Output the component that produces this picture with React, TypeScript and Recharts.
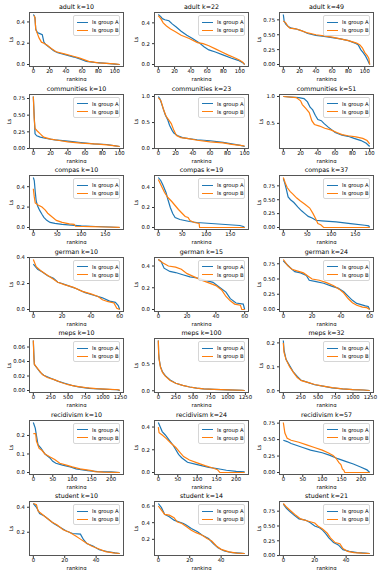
import { LineChart, Line, XAxis, YAxis } from "recharts"

type Pt = [number, number]

const BLUE = "#1f77b4"
const ORANGE = "#ff7f0e"
const FONT = "DejaVu Sans"

// x tick labels per dataset
const adultX = [0, 20, 40, 60, 80, 100]
const communitiesX = [0, 20, 40, 60, 80, 100]
const compasX = [0, 50, 100, 150]
const germanX = [0, 20, 40, 60]
const mepsX = [0, 250, 500, 750, 1000, 1250]
const recidivismX = [0, 50, 100, 150, 200]
const studentX = [0, 20, 40]

// adult
const adult10A: Pt[] = [[0, 0.47], [1, 0.46], [2, 0.44], [3, 0.33], [5, 0.3], [8, 0.29], [11, 0.28], [13, 0.21], [15, 0.19], [20, 0.16], [25, 0.13], [30, 0.11], [40, 0.09], [50, 0.07], [58, 0.05], [65, 0.03], [75, 0.02], [90, 0.01], [100, 0.004], [106, 0]]
const adult10B: Pt[] = [[1, 0.46], [2, 0.44], [3, 0.33], [5, 0.29], [7, 0.25], [10, 0.21], [13, 0.2], [17, 0.18], [22, 0.15], [28, 0.12], [38, 0.1], [48, 0.08], [57, 0.06], [68, 0.03], [80, 0.015], [90, 0.01], [100, 0.005], [106, 0]]
const adult22A: Pt[] = [[0, 0.48], [3, 0.46], [5, 0.44], [8, 0.43], [13, 0.42], [17, 0.39], [22, 0.36], [28, 0.32], [35, 0.28], [42, 0.25], [50, 0.21], [56, 0.17], [62, 0.14], [70, 0.12], [80, 0.09], [90, 0.06], [98, 0.04], [103, 0.02], [106, 0]]
const adult22B: Pt[] = [[0, 0.47], [3, 0.44], [6, 0.4], [10, 0.37], [15, 0.34], [20, 0.32], [28, 0.28], [38, 0.25], [48, 0.21], [55, 0.2], [62, 0.18], [70, 0.15], [78, 0.12], [86, 0.09], [95, 0.06], [100, 0.04], [104, 0.02], [106, 0]]
const adult49A: Pt[] = [[0, 0.84], [1, 0.73], [3, 0.68], [6, 0.64], [10, 0.61], [15, 0.6], [22, 0.57], [30, 0.52], [40, 0.49], [50, 0.47], [60, 0.45], [70, 0.43], [80, 0.4], [88, 0.36], [92, 0.33], [95, 0.25], [98, 0.2], [101, 0.14], [104, 0.06], [106, 0]]
const adult49B: Pt[] = [[0, 0.73], [3, 0.7], [5, 0.65], [8, 0.61], [15, 0.6], [22, 0.57], [30, 0.53], [40, 0.5], [50, 0.48], [60, 0.46], [70, 0.43], [80, 0.4], [90, 0.36], [94, 0.33], [97, 0.28], [100, 0.2], [103, 0.15], [105, 0.1], [106, 0]]

// communities
const comm10A: Pt[] = [[0, 0.78], [1, 0.5], [2, 0.22], [4, 0.19], [8, 0.17], [15, 0.15], [25, 0.13], [40, 0.11], [55, 0.09], [70, 0.07], [85, 0.06], [95, 0.04], [100, 0.03]]
const comm10B: Pt[] = [[0, 0.78], [1, 0.45], [2, 0.3], [4, 0.27], [8, 0.22], [12, 0.17], [20, 0.14], [30, 0.12], [40, 0.1], [55, 0.08], [75, 0.065], [85, 0.055], [95, 0.04], [100, 0.03]]
const comm23A: Pt[] = [[0, 1.0], [2, 0.95], [5, 0.8], [8, 0.65], [11, 0.55], [13, 0.45], [16, 0.35], [18, 0.3], [22, 0.25], [28, 0.21], [35, 0.19], [45, 0.17], [60, 0.15], [75, 0.12], [85, 0.09], [95, 0.06], [100, 0.04]]
const comm23B: Pt[] = [[0, 0.98], [3, 0.92], [6, 0.75], [9, 0.62], [12, 0.55], [15, 0.48], [18, 0.35], [21, 0.25], [26, 0.21], [35, 0.19], [45, 0.16], [60, 0.13], [75, 0.11], [85, 0.08], [95, 0.06], [100, 0.05]]
const comm51A: Pt[] = [[0, 1.0], [10, 0.99], [18, 0.98], [24, 0.96], [28, 0.9], [31, 0.8], [34, 0.75], [37, 0.65], [40, 0.57], [44, 0.55], [47, 0.5], [52, 0.43], [57, 0.37], [60, 0.33], [68, 0.28], [75, 0.26], [82, 0.22], [90, 0.18], [96, 0.13], [100, 0.07]]
const comm51B: Pt[] = [[0, 1.0], [15, 0.98], [20, 0.92], [22, 0.85], [26, 0.78], [30, 0.7], [33, 0.55], [36, 0.48], [42, 0.45], [48, 0.41], [55, 0.38], [62, 0.33], [68, 0.29], [75, 0.27], [84, 0.25], [92, 0.22], [97, 0.18], [100, 0.12]]

// compas
const compas10A: Pt[] = [[0, 0.49], [2, 0.46], [4, 0.35], [6, 0.26], [9, 0.21], [13, 0.17], [18, 0.13], [22, 0.1], [28, 0.07], [35, 0.05], [45, 0.04], [60, 0.03], [85, 0.02], [100, 0.015], [130, 0.01], [160, 0.005], [180, 0]]
const compas10B: Pt[] = [[0, 0.38], [2, 0.3], [4, 0.24], [10, 0.22], [18, 0.2], [25, 0.17], [30, 0.14], [40, 0.1], [48, 0.07], [60, 0.05], [75, 0.035], [85, 0.03], [88, 0.012], [120, 0.008], [150, 0.005], [180, 0.002]]
const compas19A: Pt[] = [[0, 0.5], [5, 0.47], [10, 0.42], [16, 0.35], [20, 0.28], [25, 0.2], [30, 0.14], [35, 0.1], [45, 0.08], [55, 0.07], [65, 0.06], [80, 0.05], [110, 0.04], [140, 0.03], [170, 0.02], [177, 0.01], [180, 0]]
const compas19B: Pt[] = [[0, 0.48], [4, 0.44], [8, 0.4], [13, 0.35], [20, 0.3], [28, 0.26], [35, 0.22], [42, 0.18], [50, 0.14], [56, 0.11], [62, 0.1], [66, 0.07], [75, 0.05], [85, 0.04], [86, 0], [180, 0]]
const compas37A: Pt[] = [[0, 0.88], [3, 0.8], [6, 0.7], [10, 0.55], [15, 0.5], [22, 0.45], [30, 0.37], [38, 0.3], [45, 0.25], [52, 0.2], [60, 0.17], [68, 0.13], [80, 0.12], [110, 0.1], [140, 0.07], [170, 0.04], [178, 0.03], [180, 0]]
const compas37B: Pt[] = [[0, 0.9], [4, 0.8], [8, 0.72], [14, 0.65], [20, 0.6], [28, 0.53], [35, 0.48], [45, 0.42], [55, 0.35], [62, 0.25], [68, 0.15], [72, 0.07], [78, 0.05], [84, 0], [180, 0]]

// german
const german10A: Pt[] = [[0, 0.35], [3, 0.31], [6, 0.29], [10, 0.26], [14, 0.24], [17, 0.21], [20, 0.2], [25, 0.18], [30, 0.16], [36, 0.13], [42, 0.11], [48, 0.09], [53, 0.065], [57, 0.055], [59, 0.03], [60, 0]]
const german10B: Pt[] = [[0, 0.385], [2, 0.33], [5, 0.3], [9, 0.27], [13, 0.24], [17, 0.21], [22, 0.19], [28, 0.17], [34, 0.14], [40, 0.12], [45, 0.1], [48, 0.075], [52, 0.06], [56, 0.05], [58, 0.01], [60, 0]]
const german15A: Pt[] = [[0, 0.46], [2, 0.44], [4, 0.38], [8, 0.35], [12, 0.34], [17, 0.32], [22, 0.3], [27, 0.29], [32, 0.27], [38, 0.25], [42, 0.21], [47, 0.16], [50, 0.1], [54, 0.06], [59, 0.05], [60, 0]]
const german15B: Pt[] = [[0, 0.46], [3, 0.43], [7, 0.4], [12, 0.39], [16, 0.37], [20, 0.33], [25, 0.3], [30, 0.27], [36, 0.24], [40, 0.22], [44, 0.18], [47, 0.12], [50, 0.08], [53, 0.05], [57, 0.04], [58, 0], [60, 0]]
const german24A: Pt[] = [[0, 0.8], [2, 0.75], [5, 0.68], [8, 0.62], [12, 0.6], [16, 0.56], [18, 0.48], [22, 0.46], [28, 0.43], [34, 0.38], [38, 0.35], [42, 0.29], [45, 0.22], [48, 0.15], [51, 0.1], [54, 0.08], [57, 0.06], [59, 0.05], [60, 0]]
const german24B: Pt[] = [[0, 0.82], [3, 0.72], [6, 0.66], [10, 0.63], [14, 0.6], [17, 0.55], [20, 0.5], [25, 0.48], [30, 0.44], [35, 0.39], [39, 0.33], [42, 0.27], [45, 0.18], [48, 0.11], [51, 0.07], [55, 0.04], [58, 0.03], [60, 0]]

// meps
const meps10A: Pt[] = [[0, 0.069], [8, 0.05], [15, 0.036], [30, 0.034], [60, 0.03], [100, 0.025], [150, 0.021], [250, 0.017], [350, 0.013], [450, 0.01], [550, 0.007], [650, 0.005], [800, 0.003], [1000, 0.002], [1200, 0.001], [1240, 0]]
const meps10B: Pt[] = [[0, 0.069], [8, 0.045], [15, 0.036], [40, 0.033], [80, 0.028], [130, 0.022], [200, 0.018], [300, 0.015], [400, 0.011], [500, 0.008], [600, 0.006], [750, 0.004], [900, 0.0025], [1100, 0.0015], [1230, 0.001], [1240, 0]]
const meps100A: Pt[] = [[0, 0.93], [5, 0.7], [10, 0.6], [30, 0.45], [60, 0.35], [100, 0.28], [170, 0.2], [250, 0.14], [350, 0.1], [450, 0.07], [550, 0.05], [650, 0.035], [800, 0.025], [1000, 0.015], [1200, 0.01], [1240, 0.005]]
const meps100B: Pt[] = [[0, 0.93], [5, 0.68], [12, 0.58], [30, 0.44], [60, 0.34], [100, 0.27], [170, 0.19], [250, 0.14], [350, 0.1], [450, 0.07], [550, 0.05], [650, 0.035], [800, 0.025], [1000, 0.015], [1200, 0.01], [1240, 0.005]]
const meps32A: Pt[] = [[0, 0.21], [10, 0.17], [40, 0.13], [80, 0.11], [140, 0.08], [200, 0.06], [250, 0.045], [350, 0.035], [450, 0.025], [550, 0.02], [700, 0.012], [850, 0.008], [1000, 0.005], [1150, 0.003], [1240, 0.001]]
const meps32B: Pt[] = [[0, 0.2], [10, 0.16], [40, 0.13], [90, 0.1], [150, 0.075], [200, 0.055], [260, 0.042], [350, 0.035], [450, 0.026], [550, 0.02], [700, 0.013], [850, 0.008], [1000, 0.005], [1150, 0.003], [1240, 0.001]]

// recidivism
const recid10A: Pt[] = [[0, 0.27], [5, 0.24], [8, 0.2], [12, 0.15], [20, 0.13], [30, 0.1], [42, 0.08], [50, 0.06], [58, 0.05], [75, 0.04], [95, 0.03], [110, 0.02], [140, 0.01], [165, 0.005], [200, 0.003], [222, 0]]
const recid10B: Pt[] = [[0, 0.21], [6, 0.21], [8, 0.17], [15, 0.13], [22, 0.12], [30, 0.1], [42, 0.085], [55, 0.07], [68, 0.05], [85, 0.04], [100, 0.03], [120, 0.02], [150, 0.01], [158, 0.005], [180, 0.002], [222, 0]]
const recid24A: Pt[] = [[0, 0.44], [5, 0.4], [10, 0.36], [18, 0.33], [27, 0.29], [38, 0.24], [45, 0.2], [52, 0.16], [60, 0.13], [75, 0.09], [100, 0.07], [130, 0.045], [150, 0.035], [175, 0.02], [200, 0.01], [222, 0.005]]
const recid24B: Pt[] = [[0, 0.4], [2, 0.35], [10, 0.33], [20, 0.3], [32, 0.26], [45, 0.22], [55, 0.18], [65, 0.14], [80, 0.11], [100, 0.085], [120, 0.06], [140, 0.04], [152, 0.025], [158, 0], [222, 0]]
const recid57A: Pt[] = [[0, 0.49], [10, 0.47], [20, 0.44], [35, 0.41], [50, 0.38], [70, 0.34], [100, 0.3], [120, 0.26], [140, 0.21], [160, 0.17], [180, 0.13], [200, 0.08], [215, 0.04], [222, 0]]
const recid57B: Pt[] = [[0, 0.76], [4, 0.6], [10, 0.52], [20, 0.49], [40, 0.46], [60, 0.42], [80, 0.38], [100, 0.34], [115, 0.3], [128, 0.26], [135, 0.22], [143, 0.15], [148, 0.12], [152, 0.05], [155, 0.04], [158, 0], [222, 0]]

// student
const student10A: Pt[] = [[0, 0.43], [2, 0.4], [4, 0.35], [7, 0.33], [10, 0.3], [13, 0.27], [17, 0.24], [21, 0.21], [25, 0.19], [30, 0.185], [32, 0.14], [34, 0.11], [38, 0.09], [42, 0.06], [47, 0.045], [52, 0.035], [55, 0.03]]
const student10B: Pt[] = [[0, 0.43], [2, 0.42], [3, 0.37], [6, 0.34], [9, 0.31], [12, 0.28], [15, 0.26], [19, 0.22], [23, 0.2], [27, 0.17], [30, 0.145], [33, 0.12], [37, 0.09], [41, 0.07], [46, 0.045], [51, 0.035], [55, 0.03]]
const student14A: Pt[] = [[0, 0.63], [2, 0.58], [4, 0.5], [7, 0.47], [10, 0.43], [13, 0.41], [16, 0.39], [18, 0.37], [21, 0.33], [25, 0.29], [28, 0.25], [32, 0.21], [35, 0.15], [38, 0.1], [42, 0.06], [47, 0.04], [52, 0.035], [55, 0.03]]
const student14B: Pt[] = [[0, 0.6], [2, 0.55], [4, 0.5], [7, 0.49], [10, 0.46], [12, 0.41], [15, 0.39], [18, 0.35], [21, 0.31], [24, 0.28], [28, 0.25], [31, 0.21], [34, 0.18], [37, 0.12], [40, 0.08], [45, 0.05], [50, 0.035], [55, 0.03]]
const student21A: Pt[] = [[0, 0.87], [2, 0.8], [4, 0.75], [7, 0.68], [10, 0.62], [14, 0.6], [17, 0.56], [20, 0.5], [23, 0.47], [25, 0.43], [27, 0.37], [29, 0.3], [32, 0.22], [35, 0.18], [38, 0.1], [42, 0.07], [47, 0.05], [52, 0.04], [55, 0.035]]
const student21B: Pt[] = [[0, 0.88], [2, 0.82], [5, 0.75], [8, 0.68], [11, 0.62], [16, 0.58], [20, 0.55], [22, 0.5], [25, 0.45], [28, 0.38], [30, 0.3], [33, 0.22], [36, 0.2], [38, 0.12], [41, 0.07], [45, 0.05], [50, 0.04], [55, 0.035]]

interface PanelDef {
  title: string
  a: Pt[]
  b: Pt[]
  xTicks: number[]
  yTicks: number[]
}

const panels: PanelDef[] = [
  { title: "adult k=10", a: adult10A, b: adult10B, xTicks: adultX, yTicks: [0, 0.2, 0.4] },
  { title: "adult k=22", a: adult22A, b: adult22B, xTicks: adultX, yTicks: [0, 0.2, 0.4] },
  { title: "adult k=49", a: adult49A, b: adult49B, xTicks: adultX, yTicks: [0, 0.25, 0.5, 0.75] },
  { title: "communities k=10", a: comm10A, b: comm10B, xTicks: communitiesX, yTicks: [0, 0.25, 0.5, 0.75] },
  { title: "communities k=23", a: comm23A, b: comm23B, xTicks: communitiesX, yTicks: [0, 0.5, 1] },
  { title: "communities k=51", a: comm51A, b: comm51B, xTicks: communitiesX, yTicks: [0.5, 1] },
  { title: "compas k=10", a: compas10A, b: compas10B, xTicks: compasX, yTicks: [0, 0.2, 0.4] },
  { title: "compas k=19", a: compas19A, b: compas19B, xTicks: compasX, yTicks: [0, 0.2, 0.4] },
  { title: "compas k=37", a: compas37A, b: compas37B, xTicks: compasX, yTicks: [0, 0.25, 0.5, 0.75] },
  { title: "german k=10", a: german10A, b: german10B, xTicks: germanX, yTicks: [0, 0.2, 0.4] },
  { title: "german k=15", a: german15A, b: german15B, xTicks: germanX, yTicks: [0, 0.2, 0.4] },
  { title: "german k=24", a: german24A, b: german24B, xTicks: germanX, yTicks: [0, 0.25, 0.5, 0.75] },
  { title: "meps k=10", a: meps10A, b: meps10B, xTicks: mepsX, yTicks: [0, 0.02, 0.04, 0.06] },
  { title: "meps k=100", a: meps100A, b: meps100B, xTicks: mepsX, yTicks: [0, 0.5] },
  { title: "meps k=32", a: meps32A, b: meps32B, xTicks: mepsX, yTicks: [0, 0.1, 0.2] },
  { title: "recidivism k=10", a: recid10A, b: recid10B, xTicks: recidivismX, yTicks: [0, 0.1, 0.2] },
  { title: "recidivism k=24", a: recid24A, b: recid24B, xTicks: recidivismX, yTicks: [0, 0.2, 0.4] },
  { title: "recidivism k=57", a: recid57A, b: recid57B, xTicks: recidivismX, yTicks: [0, 0.25, 0.5, 0.75] },
  { title: "student k=10", a: student10A, b: student10B, xTicks: studentX, yTicks: [0.2, 0.4] },
  { title: "student k=14", a: student14A, b: student14B, xTicks: studentX, yTicks: [0.2, 0.4, 0.6] },
  { title: "student k=21", a: student21A, b: student21B, xTicks: studentX, yTicks: [0, 0.25, 0.5, 0.75] },
]

const COLS = [29, 154, 279]
const ROW0 = 12
const ROW_STEP = 81.5
const BOX_W = 95
const BOX_H = 55
const YW = 30
const XH = 14
const MT = 4 // room above the plot for a top tick label
const MR = 8 // room right of the plot for the last x tick label
const FS = 5.3
const LW = 1.2

const toPts = (arr: Pt[]) => arr.map(([x, y]) => ({ x, y }))

const LegendBox = () => (
  <div
    style={{
      position: "absolute", right: 3, top: 2, width: 47, height: 21,
      background: "rgba(255,255,255,0.85)", border: "1px solid #d6d6d6", borderRadius: 2,
      boxSizing: "border-box", fontFamily: FONT, fontSize: FS, color: "#000",
    }}
  >
    {[["ls group A", BLUE], ["ls group B", ORANGE]].map(([label, c], i) => (
      <div key={label} style={{ position: "absolute", left: 3, top: 2 + i * 8, height: 8, display: "flex", alignItems: "center" }}>
        <div style={{ width: 11, height: 0, borderTop: `1px solid ${c}`, marginRight: 4 }} />
        <span style={{ whiteSpace: "nowrap", lineHeight: "8px" }}>{label}</span>
      </div>
    ))}
  </div>
)

function Panel({ p, left, top }: { p: PanelDef; left: number; top: number }) {
  const all = [...p.a, ...p.b]
  const xMax = Math.max(...all.map((d) => d[0]))
  const ys = all.map((d) => d[1])
  const yMin = Math.min(...ys)
  const yMax = Math.max(...ys)
  const pad = (yMax - yMin) * 0.05
  const dec = Math.max(1, ...p.yTicks.map((t) => (String(t).split(".")[1] || "").length))
  const tickStyle = { fontSize: FS, fill: "#000", fontFamily: FONT }

  return (
    <div style={{ position: "absolute", left: left - YW, top: top - MT }}>
      <LineChart width={BOX_W + YW + MR} height={BOX_H + XH + MT} margin={{ top: MT, right: MR, bottom: 0, left: 0 }}>
        <XAxis
          dataKey="x" type="number" domain={[-0.05 * xMax, 1.05 * xMax]} allowDataOverflow
          ticks={p.xTicks} interval={0} height={XH} axisLine={false} tickSize={2} tickMargin={0}
          tickLine={{ stroke: "#333" }} tick={tickStyle}
          label={{ value: "ranking", position: "insideBottom", offset: 0, style: { fontSize: FS, fill: "#000", fontFamily: FONT } }}
        />
        <YAxis
          type="number" domain={[yMin - pad, yMax + pad]} allowDataOverflow
          ticks={p.yTicks} interval={0} width={YW} axisLine={false} tickSize={2} tickMargin={2}
          tickLine={{ stroke: "#333" }} tick={tickStyle} tickFormatter={(v: number) => v.toFixed(dec)}
          label={{ value: "Ls", angle: -90, position: "insideLeft", offset: dec > 1 ? YW - 20 : YW - 18, style: { fontSize: FS, fill: "#000", fontFamily: FONT, textAnchor: "middle" } }}
        />
        <Line data={toPts(p.a)} dataKey="y" type="linear" stroke={BLUE} strokeWidth={LW} dot={false} isAnimationActive={false} />
        <Line data={toPts(p.b)} dataKey="y" type="linear" stroke={ORANGE} strokeWidth={LW} dot={false} isAnimationActive={false} />
      </LineChart>
      <div style={{ position: "absolute", left: YW, top: MT, width: BOX_W, height: BOX_H, border: "1px solid #555", boxSizing: "border-box", pointerEvents: "none" }}>
        <LegendBox />
      </div>
      <div style={{ position: "absolute", left: YW, top: MT - 10, width: BOX_W, height: 9, lineHeight: "9px", textAlign: "center", fontFamily: FONT, fontSize: 6.3, color: "#000", whiteSpace: "nowrap" }}>
        {p.title}
      </div>
    </div>
  )
}

export default function App() {
  return (
    <div style={{ position: "absolute", left: 0, top: 0, width: 382, height: 573, background: "#fff", overflow: "hidden" }}>
      {panels.map((p, i) => (
        <Panel key={p.title} p={p} left={COLS[i % 3]} top={ROW0 + Math.floor(i / 3) * ROW_STEP} />
      ))}
    </div>
  )
}
